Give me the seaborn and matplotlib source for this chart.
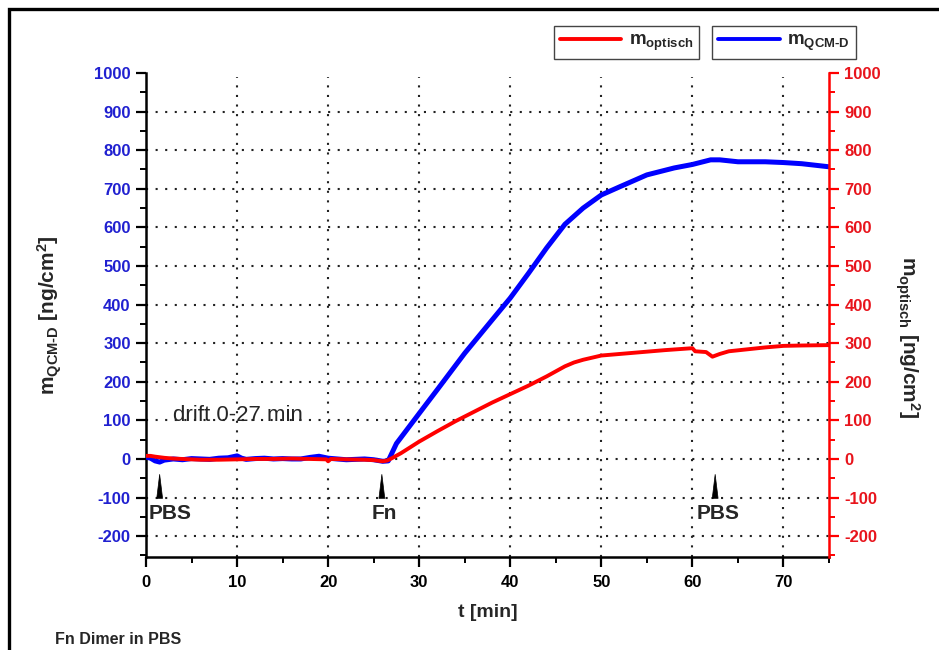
import numpy as np
import pandas as pd
import matplotlib
matplotlib.use("Agg")
import matplotlib.pyplot as plt
from matplotlib.lines import Line2D
from matplotlib.patches import Rectangle
from matplotlib.ticker import MultipleLocator
import seaborn as sns

# QCM-D mass (left axis), time in minutes
t_qcm = [0, 0.5, 1, 1.5, 2, 3, 4, 5, 6, 7, 8, 9, 10, 10.5, 11, 12, 13, 14, 15, 16, 17,
         18, 19, 20, 21, 22, 23, 24, 25, 26, 26.6, 27.5, 30, 32, 35, 38, 40, 42, 44,
         46, 48, 50, 52, 55, 58, 60, 62, 63, 65, 68, 70, 72, 75]
m_qcm = [5, 2, -5, -8, -3, 0, -2, 1, 0, -1, 2, 3, 8, 2, -1, 1, 2, 0, 1, 0, 0,
         4, 7, 2, 0, -2, -1, 0, -2, -6, -5, 40, 118, 180, 274, 360, 417, 481, 547,
         608, 650, 684, 705, 736, 754, 763, 775, 775, 770, 770, 768, 765, 757]

# optical mass (right axis)
t_opt = [0, 0.5, 1, 2, 3, 4, 5, 6, 8, 10, 12, 14, 16, 18, 19.8, 20, 20.3, 22, 24, 25,
         26, 26.5, 27, 28, 30, 32, 34, 36, 38, 40, 42, 44, 46, 47, 48, 50, 52, 55, 57,
         60, 60.3, 61.5, 62.2, 63, 64, 66, 68, 70, 72, 75]
m_opt = [8, 8, 6, 3, 1, 0, -1, -2, -2, -1, 0, 0, 1, 0, -1, -6, 0, -1, -2, -3,
         -6, -4, 2, 15, 45, 72, 98, 122, 146, 168, 190, 214, 240, 250, 257, 268, 272, 278, 282,
         287, 279, 277, 265, 272, 279, 284, 289, 293, 294, 295]

y_ticks = list(range(-200, 1001, 100))
x_ticks = list(range(0, 71, 10))
grid_y = list(range(-200, 901, 100))
grid_x = list(range(10, 71, 10))

BLUE = "#0000ff"
RED = "#ff0000"
BLUE_TXT = "#2020d0"
RED_TXT = "#e8141c"

sns.set_theme(style="ticks")
plt.rcParams["font.family"] = ["Liberation Sans", "DejaVu Sans"]
plt.rcParams["axes.unicode_minus"] = False
plt.rcParams["mathtext.fontset"] = "custom"
plt.rcParams["mathtext.rm"] = "Liberation Sans:bold"
plt.rcParams["mathtext.bf"] = "Liberation Sans:bold"
plt.rcParams["mathtext.it"] = "Liberation Sans:bold"

QCM_SUB = r"$\mathbf{m}_{\mathbf{QCM}\text{-}\mathbf{D}}$"
OPT_SUB = r"$\mathbf{m}_{\mathbf{optisch}}$"

fig = plt.figure(figsize=(9.39, 6.5), dpi=100)
ax = fig.add_axes([146 / 939, 1 - 557 / 650, (829 - 146) / 939, (557 - 73) / 650])
ax2 = ax.twinx()

df_qcm = pd.DataFrame({"t": t_qcm, "m": m_qcm})
df_opt = pd.DataFrame({"t": t_opt, "m": m_opt})
sns.lineplot(data=df_qcm, x="t", y="m", ax=ax, color=BLUE, lw=3.6, sort=False, zorder=3)
sns.lineplot(data=df_opt, x="t", y="m", ax=ax2, color=RED, lw=2.8, sort=False, zorder=3)

ylo, yhi = -254, 1000
for a in (ax, ax2):
    a.set_xlim(0, 75)
    a.set_ylim(ylo, yhi)
    a.set_xlabel("")
    a.set_ylabel("")

# dotted grid
dot = (0, (1, 3.6))
ax.hlines(grid_y, 0, 75, colors="#222222", linestyles=[dot], lw=1.5, zorder=1)
ax.vlines(grid_x, ylo, yhi - 10, colors="#222222", linestyles=[dot], lw=1.5, zorder=1)

ax.set_xticks(x_ticks)
ax.xaxis.set_minor_locator(MultipleLocator(5))
ax.set_yticks(y_ticks)
ax.yaxis.set_minor_locator(MultipleLocator(50))
ax2.set_yticks(y_ticks)
ax2.yaxis.set_minor_locator(MultipleLocator(50))

for s in ("top", "right"):
    ax.spines[s].set_visible(False)
for s in ("top", "left", "bottom"):
    ax2.spines[s].set_visible(False)
ax.spines["left"].set_color("black")
ax.spines["left"].set_linewidth(1.8)
ax.spines["bottom"].set_color("black")
ax.spines["bottom"].set_linewidth(1.8)
ax2.spines["right"].set_color(RED)
ax2.spines["right"].set_linewidth(1.8)

ax.tick_params(axis="x", which="major", length=7, width=1.6, colors="black",
               labelsize=12, pad=6)
ax.tick_params(axis="x", which="minor", length=4, width=1.4, colors="black")
ax.tick_params(axis="y", which="major", length=7, width=1.6, color="black",
               labelcolor=BLUE_TXT, labelsize=12, pad=4)
ax.tick_params(axis="y", which="minor", length=4, width=1.4, color="black")
ax2.tick_params(axis="y", which="major", length=7, width=1.6, color=RED,
                labelcolor=RED_TXT, labelsize=12, pad=4)
ax2.tick_params(axis="y", which="minor", length=4, width=1.4, color=RED)
for lab in ax.get_xticklabels() + ax.get_yticklabels() + ax2.get_yticklabels():
    lab.set_fontweight("bold")

ax.set_xlabel("t [min]", fontsize=14, fontweight="bold", labelpad=10)
ax.set_ylabel(QCM_SUB + r" [ng/cm$^{\mathbf{2}}$]",
              fontsize=15, fontweight="bold", labelpad=22)
ax2.set_ylabel(OPT_SUB + r" [ng/cm$^{\mathbf{2}}$]",
               fontsize=15, fontweight="bold", rotation=270, labelpad=28)
ax2.yaxis.set_label_coords(1.135, 0.455)

# annotations
ax.text(3.0, 112, "drift 0-27 min", fontsize=16, va="center", ha="left")
marks = [(1.5, 2.6, "PBS"), (25.9, 26.2, "Fn"), (62.5, 62.8, "PBS")]
for xa, xt, lbl in marks:
    ax.annotate("", xy=(xa, -40), xytext=(xa, -102),
                arrowprops=dict(arrowstyle="wedge,tail_width=0.35", fc="black",
                                ec="black", shrinkA=0, shrinkB=0, lw=0.5),
                zorder=4)
    ax.text(xt, -142, lbl, fontsize=15, fontweight="bold", ha="center", va="center")

# two separate legend boxes
leg_kw = dict(loc="center", frameon=True, fancybox=False, framealpha=1,
              edgecolor="#444444", handlelength=3.3, handletextpad=0.4,
              borderpad=0.3, borderaxespad=0, fontsize=13.5)
leg1 = fig.legend([Line2D([], [], color=RED, lw=2.8)], [OPT_SUB],
                  bbox_to_anchor=(626.5 / 939, 1 - 42.5 / 650), **leg_kw)
leg2 = fig.legend([Line2D([], [], color=BLUE, lw=2.8)], [QCM_SUB],
                  bbox_to_anchor=(784 / 939, 1 - 42.5 / 650), **leg_kw)
for lg in (leg1, leg2):
    lg.get_frame().set_linewidth(1.0)

fig.text(55 / 939, 1 - 640 / 650, "Fn Dimer in PBS", fontsize=11.5,
         fontweight="bold", va="center", ha="left")

# outer frame
fig.patches.append(Rectangle((9 / 939, -0.1), 1.2, 1 - 9 / 650 + 0.1,
                             transform=fig.transFigure, fill=False,
                             ec="black", lw=2.4))

fig.savefig("out.png", dpi=100)
